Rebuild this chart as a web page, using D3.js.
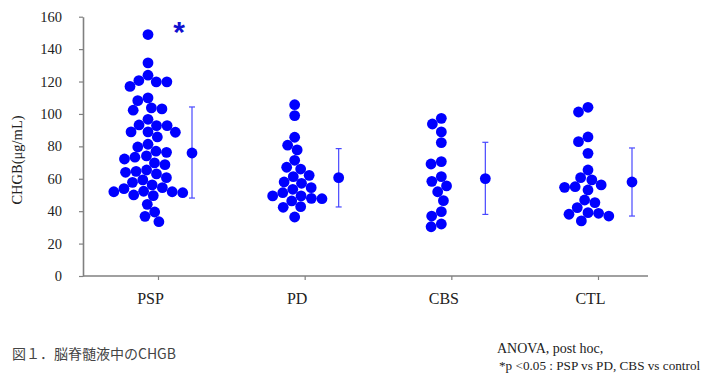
<!DOCTYPE html>
<html><head><meta charset="utf-8">
<script src="https://cdn.jsdelivr.net/npm/d3@7"></script>
<style>
html,body{margin:0;padding:0;background:#fff;}
svg{display:block;}
</style></head>
<body>
<script>
// ---- data ----
const categories = ["PSP", "PD", "CBS", "CTL"];
const yTicks = [0, 20, 40, 60, 80, 100, 120, 140, 160];
const valuesPSP = [149, 131.5, 123.9, 119.8, 120.6, 119.8, 117, 108.2, 109.9, 103.1, 103.7, 102.3, 96.7, 92.8, 93.2, 92.8,
  85.8, 88.9, 88.7, 88.9, 81.3, 79.6, 76.3, 77, 72.2, 74.1, 73.3, 69.8, 68.7, 64.6, 64, 63, 65.4, 60.7, 59.3, 57.8,
  56.2, 53.9, 52, 50, 52.3, 49.6, 52, 54.5, 51.4, 44.2, 36.8, 39.5, 33.5];
const valuesPD = [105.7, 99, 85.6, 80.7, 77.8, 71.4, 66, 67.1, 61.3, 62.1, 57.2, 58, 54.5, 53.5, 49.4, 47.7, 49.4, 51.4,
  47.9, 46.3, 42.8, 42.4, 36.4];
const valuesCBS = [97.3, 93.8, 88.9, 82.3, 69.1, 70.6, 61.3, 58.4, 55.6, 52, 46.5, 39.7, 37, 32.1, 30.4];
const valuesCTL = [104.1, 101.2, 85.8, 82.9, 75.7, 65.4, 60.7, 59.3, 56.2, 54.7, 53.1, 55.1, 46.9, 45.3, 42.2, 39.1,
  38.1, 37, 38.7, 34];
const means = [75.9, 60.7, 60.1, 58.0];
const errTop = [104.3, 78.6, 82.5, 79.0];
const errBottom = [48.1, 42.6, 38.0, 37.0];
const yLabel = "CHGB(μg/mL)";
const caption = "図１．脳脊髄液中のCHGB";
const note1 = "ANOVA, post hoc,";
const note2 = "*p <0.05 : PSP vs PD, CBS vs control";
const sigMark = "*";
const sigValue = 155;

const groups = [valuesPSP, valuesPD, valuesCBS, valuesCTL];

// ---- layout ----
const W = 708, H = 373;
const blue = "#0000ff";
const r = 5.4;
const serif = "'Liberation Serif','Times New Roman',serif";

const svg = d3.select("body").append("svg").attr("width", W).attr("height", H);

const y = d3.scaleLinear().domain([0, 160]).range([276, 16.7]);
const x = d3.scalePoint().domain(categories).range([158, 598]);
const axisLeftX = 83, axisRightX = 648;

// y axis
const gy = svg.append("g").attr("transform", `translate(${axisLeftX},0)`)
  .call(d3.axisLeft(y).tickValues(yTicks).tickSize(4).tickPadding(17).tickSizeOuter(0));
gy.select(".domain").attr("stroke", "#808080").attr("stroke-width", 1.6);
gy.selectAll(".tick line").attr("stroke", "#808080").attr("stroke-width", 1.2);
gy.selectAll(".tick text").attr("font-family", serif).attr("font-size", 14.5).attr("fill", "#222");

// x axis
const xAxisY = y(0);
svg.append("line").attr("x1", axisLeftX).attr("x2", axisRightX).attr("y1", xAxisY).attr("y2", xAxisY)
  .attr("stroke", "#808080").attr("stroke-width", 1.6);
const gx = svg.append("g").attr("transform", `translate(0,${xAxisY})`)
  .call(d3.axisBottom(x).tickSize(4).tickPadding(13).tickSizeOuter(0));
gx.select(".domain").remove();
gx.selectAll(".tick line").attr("stroke", "#808080").attr("stroke-width", 1.2);
gx.selectAll(".tick text").attr("font-family", serif).attr("font-size", 16).attr("fill", "#222")
  .attr("dx", -8);

// y label
svg.append("text").attr("transform", `translate(22,160) rotate(-90)`)
  .attr("text-anchor", "middle").attr("font-family", serif).attr("font-size", 14.5).attr("fill", "#222")
  .text(yLabel);

// beeswarm layout
function beeswarm(values, d) {
  const placed = [];
  const order = values.map((v, i) => ({ v, i })).sort((a, b) => b.v - a.v);
  for (const p of order) {
    const py = y(p.v);
    let cands = [0];
    for (const q of placed) {
      const dy = py - q.y;
      if (Math.abs(dy) < d) {
        const dx = Math.sqrt(d * d - dy * dy);
        cands.push(q.x + dx, q.x - dx);
      }
    }
    cands.sort((a, b) => Math.abs(a) - Math.abs(b) || a - b);
    let chosen = 0;
    for (const c of cands) {
      let ok = true;
      for (const q of placed) {
        const ddx = c - q.x, ddy = py - q.y;
        if (ddx * ddx + ddy * ddy < d * d - 1e-6) { ok = false; break; }
      }
      if (ok) { chosen = c; break; }
    }
    placed.push({ x: chosen, y: py, v: p.v });
  }
  return placed;
}

groups.forEach((vals, gi) => {
  const cx = x(categories[gi]) - 10;
  const pts = beeswarm(vals, 10.6);
  svg.append("g").selectAll("circle").data(pts).join("circle")
    .attr("cx", d => cx + d.x).attr("cy", d => d.y).attr("r", r).attr("fill", blue);
  // mean +/- error bar
  const mx = x(categories[gi]) + 34;
  const eg = svg.append("g");
  eg.append("line").attr("x1", mx).attr("x2", mx).attr("y1", y(errTop[gi])).attr("y2", y(errBottom[gi]))
    .attr("stroke", "#4848ff").attr("stroke-width", 1.2);
  [errTop[gi], errBottom[gi]].forEach(v => {
    eg.append("line").attr("x1", mx - 3).attr("x2", mx + 3).attr("y1", y(v)).attr("y2", y(v))
      .attr("stroke", "#4848ff").attr("stroke-width", 1.2);
  });
  eg.append("circle").attr("cx", mx).attr("cy", y(means[gi])).attr("r", r).attr("fill", blue);
});

// significance mark
svg.append("text").attr("x", x("PSP") + 21).attr("y", y(sigValue) + 17)
  .attr("text-anchor", "middle").attr("font-family", "'Liberation Sans',Arial,sans-serif")
  .attr("font-weight", "bold").attr("font-size", 30).attr("fill", "#1010d0").text(sigMark);

// caption and notes
svg.append("text").attr("x", 12).attr("y", 359).attr("font-family", "'Noto Sans CJK JP',sans-serif")
  .attr("font-size", 14).attr("fill", "#444").text(caption);
svg.append("text").attr("x", 497).attr("y", 353).attr("font-family", serif)
  .attr("font-size", 14).attr("fill", "#222").text(note1);
svg.append("text").attr("x", 499).attr("y", 370).attr("font-family", serif)
  .attr("font-size", 13.2).attr("fill", "#222").text(note2);
</script>
</body></html>
